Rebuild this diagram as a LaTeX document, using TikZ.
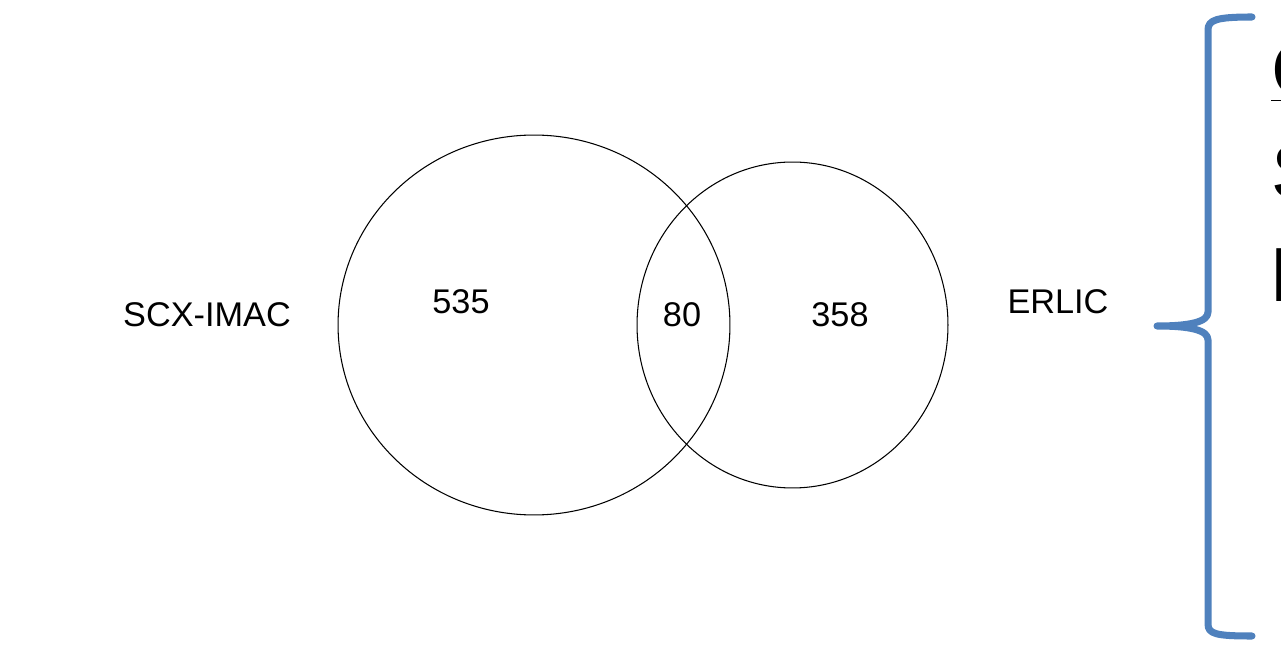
\documentclass[tikz,border=0pt]{standalone}
\usepackage{fontspec}
\setmainfont{Liberation Sans}
\usepackage{xcolor}
\usetikzlibrary{positioning}
\definecolor{braceblue}{HTML}{4F81BD}

\begin{document}
\begin{tikzpicture}[x=0.02cm, y=-0.02cm,
    setlabel/.style={font=\fontsize{19.5}{23}\selectfont, inner sep=0pt},
    notetext/.style={font=\fontsize{43.7}{58}\selectfont, inner sep=0pt, anchor=base west}]
  \useasboundingbox (0,0) rectangle (1281,648);
  \clip (0,0) rectangle (1281,648);
  % the two sets
  \draw[line width=0.6pt] (534,325) ellipse [x radius=3.92cm, y radius=3.8cm];
  \draw[line width=0.6pt] (792.5,325) ellipse [x radius=3.11cm, y radius=3.26cm];
  \node[setlabel] (scx) at (207,315) {SCX-IMAC};
  \node[setlabel] (erlic) at (1058,302) {ERLIC};
  \node[setlabel] (onlyscx) at (461,302) {535};
  \node[setlabel] (both) at (682,315) {80};
  \node[setlabel] (onlyerlic) at (840,315) {358};
  % brace and the note beside it
  \draw[braceblue, line width=4pt, line cap=round, line join=round]
    (1252,17) .. controls (1216,17) and (1208,20) .. (1208,30) -- (1208,312)
    .. controls (1208,322) and (1190,326) .. (1157,326)
    .. controls (1190,326) and (1208,330) .. (1208,340) -- (1208,624)
    .. controls (1208,634) and (1216,636) .. (1252,636);
  \node[notetext] (noteone) at (1271,97) {\underline{C}};
  \node[notetext] (notetwo) at (1271,199) {S};
  \node[notetext] (notethree) at (1270,302) {P};
\end{tikzpicture}
\end{document}
